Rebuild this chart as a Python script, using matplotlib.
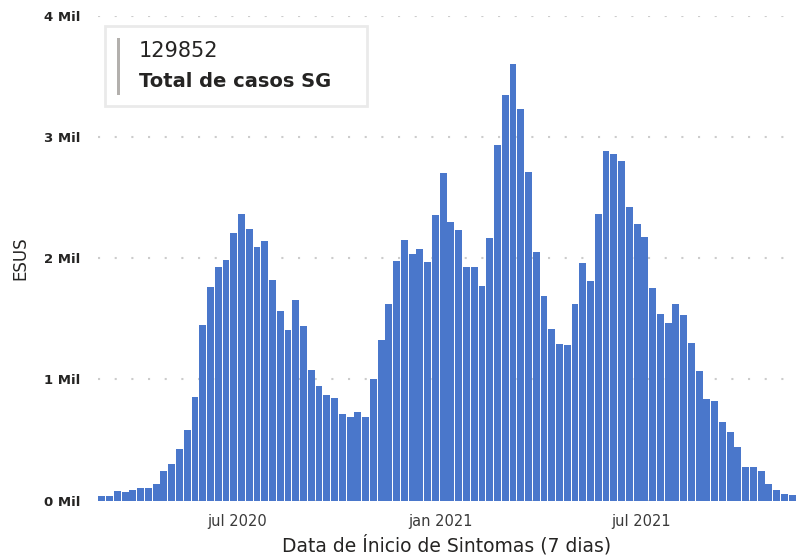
import pandas as pd
import matplotlib
matplotlib.use("Agg")
import matplotlib.pyplot as plt
from matplotlib.patches import Rectangle

# casos semanais (semana epidemiologica de inicio de sintomas)
semanas = pd.date_range("2020-03-01", periods=90, freq="7D")
casos = [
    41, 41, 82, 74, 90, 107, 107, 140, 247, 304, 427, 584,
    855, 1447, 1767, 1932, 1989, 2211, 2367, 2244, 2096, 2145, 1825,
    1562, 1405, 1652, 1438, 1077, 945, 871, 847, 715, 690, 732, 690,
    1003, 1323, 1627, 1981, 2153, 2038, 2079, 1973, 2359, 2704, 2301,
    2236, 1932, 1932, 1775, 2170, 2934, 3353, 3608, 3230, 2712,
    2055, 1685, 1414, 1290, 1282, 1619, 1964, 1816, 2367, 2885, 2860, 2803,
    2423, 2283, 2176, 1755, 1541, 1467, 1624, 1533, 1302, 1071,
    841, 824, 651, 569, 445, 280, 280, 247, 140, 91, 58, 49,
]
total_casos = "129852"
yticks = [0, 1000, 2000, 3000, 4000]
ytick_labels = ["0 Mil", "1 Mil", "2 Mil", "3 Mil", "4 Mil"]
xticks = pd.to_datetime(["2020-07-01", "2021-01-01", "2021-07-01"])
xtick_labels = ["jul 2020", "jan 2021", "jul 2021"]

plt.rcParams["font.family"] = ["DejaVu Sans"]
txt = "#252423"

fig = plt.figure(figsize=(7.96, 5.58), dpi=100)
ax = fig.add_axes([0.1231, 0.103, 0.877, 0.868])

ax.bar(semanas, casos, width=6.2, color="#4a77cb", zorder=3)

ax.set_xlim(semanas[0] - pd.Timedelta(days=3.5), semanas[-1] + pd.Timedelta(days=3.5))
ax.set_ylim(0, 4000)
ax.set_yticks(yticks)
ax.set_yticklabels(ytick_labels, fontsize=9.5, fontweight="bold", color=txt)
ax.set_xticks(xticks)
ax.set_xticklabels(xtick_labels, fontsize=10.5, color="#3a3a3a")
ax.tick_params(axis="both", length=0)
ax.tick_params(axis="x", pad=10)
ax.tick_params(axis="y", pad=13)
ax.grid(axis="y", color="#cccccc", linestyle=(0, (1, 7)), linewidth=1.5, zorder=0)
for s in ax.spines.values():
    s.set_visible(False)

ax.set_xlabel("Data de Ínicio de Sintomas (7 dias)", fontsize=13.5, color=txt, labelpad=4)
ax.set_ylabel("ESUS", fontsize=12, color=txt, labelpad=10)

# cartao com o total
fig.patches.append(Rectangle((105 / 796, 1 - 106 / 558), 262 / 796, 80 / 558,
                             transform=fig.transFigure, facecolor="white",
                             edgecolor="#eaeaea", linewidth=2, zorder=5))
fig.patches.append(Rectangle((117 / 796, 1 - 95 / 558), 3 / 796, 57 / 558,
                             transform=fig.transFigure, facecolor="#b3b0ad",
                             edgecolor="none", zorder=6))
fig.text(139 / 796, 1 - 51 / 558, total_casos, fontsize=15, color=txt,
         va="center", ha="left", zorder=7)
fig.text(139 / 796, 1 - 82 / 558, "Total de casos SG", fontsize=14, color=txt,
         fontweight="bold", va="center", ha="left", zorder=7)

fig.savefig("out.png", dpi=100)
